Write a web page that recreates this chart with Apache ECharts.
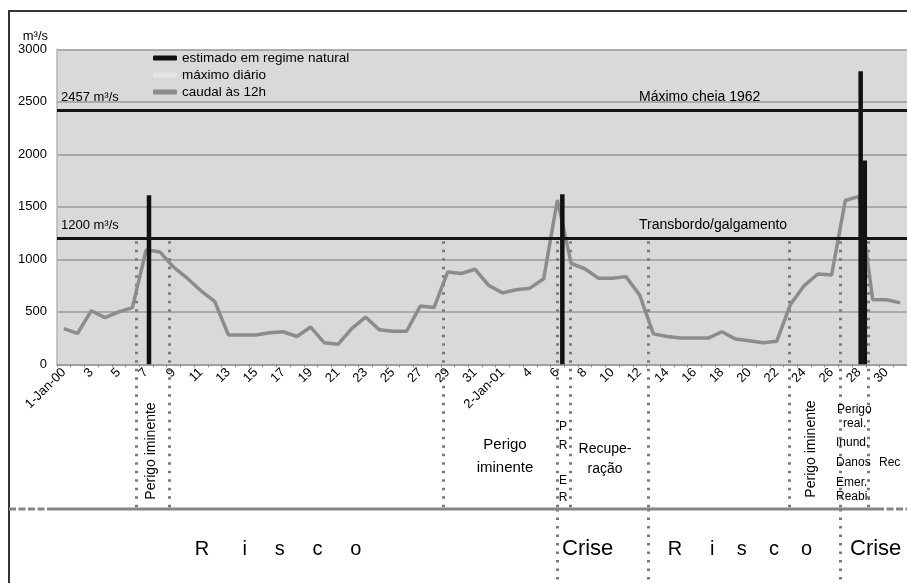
<!DOCTYPE html>
<html><head><meta charset="utf-8">
<script src="https://cdn.jsdelivr.net/npm/echarts@6/dist/echarts.min.js"></script>
<style>html,body{margin:0;padding:0;background:#fff}#c{width:907px;height:583px}</style>
</head><body><div id="c"></div>
<script>
// ---- data ----
const dayLabels = (function(){
  const a = [];
  for (let d = 1; d <= 31; d++) a.push(d === 1 ? '1-Jan-00' : String(d));
  for (let d = 1; d <= 31; d++) a.push(d === 1 ? '1-Jan-01' : d === 2 ? '2-Jan-01' : String(d));
  return a;
})();
const caudal12h = [340, 295, 510, 445, 500, 540, 1090, 1070, 925, 820, 700, 600, 280, 280, 280, 300, 310, 265, 355, 205, 190, 340, 450, 330, 315, 315, 555, 540, 880, 865, 905,
                   750, 680, 710, 725, 815, 1565, 960, 910, 820, 820, 835, 660, 290, 265, 250, 250, 250, 310, 240, 225, 205, 220, 570, 750, 860, 850, 1560, 1600, 615, 615, 585];
const maximoDiario = [];            // not distinguishable in the picture
const estimadoPos = [7.21, 37.36, 59.12, 59.42];   // day position (1 = first day)
const estimadoVal = [1610, 1620, 2790, 1940];
const refLevels = [2420, 1200];
const refLeftLabels = ['2457 m³/s', '1200 m³/s'];
const refMidLabels = ['Máximo cheia 1962', 'Transbordo/galgamento'];
const phaseBounds = [6.24, 8.67, 28.63, 37.0, 37.92, 43.64, 53.89, 57.61, 59.62];
const stageBounds = [37.0, 43.64, 57.61];
const yMin = 0, yMax = 3000, yStep = 500;

const FONT = '"Liberation Sans", Arial, sans-serif';
const chart = echarts.init(document.getElementById('c'));
const option = {
  animation: false,
  backgroundColor: '#ffffff',
  textStyle: { fontFamily: FONT },
  grid: { left: 57, right: 0, top: 49.3, bottom: 218.7, show: true, backgroundColor: '#d9d9d9', borderWidth: 0 },
  legend: {
    orient: 'vertical', left: 148, top: 46, itemWidth: 24, itemHeight: 5, itemGap: 3,
    textStyle: { fontSize: 13.5, color: '#000', fontFamily: FONT, lineHeight: 13.5 },
    data: [
      { name: 'estimado em regime natural', icon: 'roundRect' },
      { name: 'máximo diário', icon: 'roundRect' },
      { name: 'caudal às 12h', icon: 'roundRect' }
    ]
  },
  xAxis: [
    { type: 'category', data: dayLabels, boundaryGap: true,
      axisLine: { lineStyle: { color: '#9a9a9a', width: 1.5 } },
      axisTick: { show: true, interval: 0, length: 3, lineStyle: { color: '#8a8a8a' } },
      axisLabel: { interval: 1, rotate: 45, fontSize: 13, color: '#000', margin: 6, fontFamily: FONT },
      splitLine: { show: false } },
    { type: 'value', min: 0.5, max: 62.5, show: false }
  ],
  yAxis: {
    type: 'value', min: yMin, max: yMax, interval: yStep,
    name: 'm³/s', nameLocation: 'end', nameGap: 5,
    nameTextStyle: { fontSize: 13, color: '#000', align: 'right', padding: [0, 9, 0, 0], fontFamily: FONT },
    axisLine: { show: true, lineStyle: { color: '#b5b5b5', width: 1.5 } },
    axisTick: { show: false },
    axisLabel: { fontSize: 13, color: '#000', margin: 10, fontFamily: FONT, formatter: v => String(v) },
    splitLine: { lineStyle: { color: '#9a9a9a', width: 1.5 } }
  },
  series: [
    { name: 'máximo diário', type: 'line', data: maximoDiario, symbol: 'none',
      itemStyle: { color: '#e4e4e4' }, lineStyle: { color: '#e4e4e4', width: 3 } },
    { name: 'caudal às 12h', type: 'line', data: caudal12h, symbol: 'none', z: 2,
      itemStyle: { color: '#8c8c8c' }, lineStyle: { color: '#8c8c8c', width: 3.5 },
      markLine: { silent: true, symbol: 'none', label: { show: false },
        lineStyle: { color: '#141414', width: 3, type: 'solid' },
        data: refLevels.map(v => ({ yAxis: v })) } },
    { name: 'estimado em regime natural', type: 'bar', xAxisIndex: 1, z: 4,
      data: estimadoPos.map((p, i) => [p, estimadoVal[i]]), barWidth: 4.5,
      itemStyle: { color: '#111' } }
  ]
};
chart.setOption(option);

const px = d => chart.convertToPixel({ xAxisIndex: 1 }, d);
const py = v => chart.convertToPixel({ yAxisIndex: 0 }, v);
const sepY = 509;
const g = [];
// frame
g.push({ type: 'polyline', silent: true, shape: { points: [[9, 583], [9, 11], [907, 11]] }, style: { stroke: '#333', lineWidth: 2, fill: null }, z: 10 });
// separator
g.push({ type: 'line', shape: { x1: 9, y1: sepY, x2: 48, y2: sepY }, style: { stroke: '#858585', lineWidth: 3, lineDash: [7, 2.5] }, z: 10 });
g.push({ type: 'line', shape: { x1: 48, y1: sepY, x2: 877, y2: sepY }, style: { stroke: '#858585', lineWidth: 3 }, z: 10 });
g.push({ type: 'line', shape: { x1: 877, y1: sepY, x2: 907, y2: sepY }, style: { stroke: '#858585', lineWidth: 3, lineDash: [7, 2.5] }, z: 10 });
// dotted phase lines
phaseBounds.forEach(d => {
  const x = Math.round(px(d)) + 0.5;
  g.push({ type: 'line', shape: { x1: x, y1: py(1200) + 3, x2: x, y2: sepY }, style: { stroke: '#7a7a7a', lineWidth: 3, lineDash: [2.5, 6] }, z: 1 });
});
stageBounds.forEach(d => {
  const x = Math.round(px(d)) + 0.5;
  g.push({ type: 'line', shape: { x1: x, y1: sepY, x2: x, y2: 583 }, style: { stroke: '#7a7a7a', lineWidth: 3, lineDash: [2.5, 6] }, z: 1 });
});
function txt(text, x, y, size, opt) {
  opt = opt || {};
  return { type: 'text', x: x, y: y, rotation: opt.rot || 0, z: 12,
    style: { text: text, x: 0, y: 0, fill: '#000', font: size + 'px ' + FONT,
      align: opt.align || 'left', verticalAlign: 'middle', lineHeight: opt.lh || undefined } };
}
refLevels.forEach((v, i) => {
  g.push(txt(refLeftLabels[i], 61, py(v) - 13, 13));
  g.push(txt(refMidLabels[i], 639, py(v) - 13, 14));
});
g.push(txt('Perigo iminente', 151, 451, 14, { align: 'center', rot: Math.PI / 2 }));
g.push(txt('Perigo\niminente', 505, 456, 15, { align: 'center', lh: 23 }));
[['P', 427], ['R', 446], ['E', 481], ['R', 498]].forEach(p => g.push(txt(p[0], 563, p[1], 12, { align: 'center' })));
g.push(txt('Recupe-\nração', 605, 459, 14, { align: 'center', lh: 20 }));
g.push(txt('Perigo iminente', 811, 449, 14, { align: 'center', rot: Math.PI / 2 }));
[['Perigo', 837, 410], ['real.', 843, 424], ['Inund.', 836, 443], ['Danos', 836, 463], ['Emer.', 836, 483], ['Reabi.', 836, 497]]
  .forEach(p => g.push(txt(p[0], p[1], p[2], 12)));
g.push(txt('Rec', 879, 463, 12));
g.push(txt('R      i     s     c     o', 278, 549, 20, { align: 'center' }));
g.push(txt('Crise', 562, 549, 22));
g.push(txt('R     i    s    c    o', 740, 549, 20, { align: 'center' }));
g.push(txt('Crise', 850, 549, 22));
chart.setOption({ graphic: g });
</script></body></html>
